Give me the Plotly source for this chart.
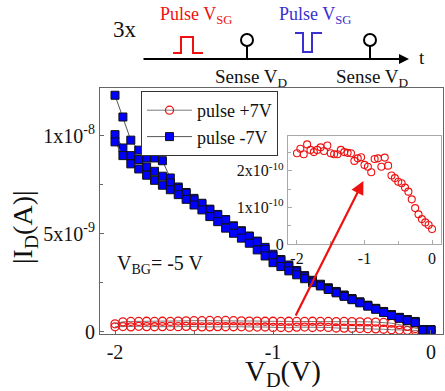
import plotly.graph_objects as go
import numpy as np

# ---------------- data ----------------
vd = [-2.00, -1.95, -1.90, -1.85, -1.80, -1.75, -1.70, -1.65, -1.60, -1.55,
      -1.50, -1.45, -1.40, -1.35, -1.30, -1.25, -1.20, -1.15, -1.10, -1.05,
      -1.00, -0.95, -0.90, -0.85, -0.80, -0.75, -0.70, -0.65, -0.60, -0.55,
      -0.50, -0.45, -0.40, -0.35, -0.30, -0.25, -0.20, -0.15, -0.10, -0.05, 0.00]

# pulse +7V, sweep 1 (units 1e-10 A) -- also shown in the inset
red_sweep1 = [2.48, 2.60, 2.45, 2.72, 2.57, 2.51, 2.57, 2.64, 2.54, 2.69,
              2.48, 2.45, 2.45, 2.57, 2.51, 2.49, 2.48, 2.27, 2.34, 2.37,
              2.16, 2.11, 1.96, 2.32, 2.34, 2.11, 2.36, 2.14, 1.87, 1.80,
              1.70, 1.66, 1.54, 1.43, 1.22, 0.98, 0.81, 0.68, 0.59, 0.52, 0.41]
# pulse +7V, sweep 2 (units 1e-9 A)
red_sweep2 = [0.40, 0.50, 0.52, 0.52, 0.53, 0.52, 0.53, 0.52, 0.54, 0.55,
              0.56, 0.56, 0.57, 0.56, 0.57, 0.56, 0.55, 0.54, 0.54, 0.53,
              0.53, 0.52, 0.53, 0.52, 0.52, 0.53, 0.52, 0.52, 0.51, 0.52,
              0.51, 0.50, 0.50, 0.49, 0.47, 0.43, 0.36, 0.27, 0.16, 0.09, 0.05]

# pulse -7V, three sweeps (units 1e-9 A)
blue_sweep1 = [12.06, 10.95, 9.77, 9.26, 8.86, 8.86, 8.72, 7.84, 7.38, 7.10,
               6.80, 6.50, 6.25, 5.98, 5.72, 5.40, 5.15, 4.88, 4.62, 4.30,
               3.95, 3.68, 3.40, 3.12, 2.86, 2.62, 2.42, 2.24, 2.05, 1.87,
               1.69, 1.52, 1.35, 1.19, 1.03, 0.87, 0.73, 0.62, 0.52, 0.11, 0.10]
blue_sweep2 = [10.05, 9.37, 8.98, 8.78, 8.40, 8.18, 7.93, 7.59, 7.30, 7.06,
               6.72, 6.55, 6.21, 5.95, 5.70, 5.36, 5.10, 4.85, 4.59, 4.20,
               3.86, 3.62, 3.32, 3.05, 2.80, 2.58, 2.38, 2.20, 2.02, 1.84,
               1.66, 1.50, 1.33, 1.17, 1.01, 0.85, 0.71, 0.60, 0.50, 0.10, 0.10]
blue_sweep3 = [9.68, 8.98, 8.56, 8.30, 7.98, 7.72, 7.47, 7.24, 6.99, 6.75,
               6.46, 6.21, 5.87, 5.61, 5.28, 5.02, 4.77, 4.51, 4.17, 3.86,
               3.52, 3.32, 3.10, 2.90, 2.70, 2.50, 2.33, 2.15, 1.98, 1.80,
               1.63, 1.47, 1.30, 1.14, 0.98, 0.82, 0.68, 0.56, 0.46, 0.08, 0.08]

main_xticks = [-2, -1, 0]
main_xticktext = ["-2", "-1", "0"]
main_xminor = [-1.5, -0.5]
main_yticks = [0, 5e-9, 1e-8]
main_yticktext = ["0", "5x10<sup>-9</sup>", "1x10<sup>-8</sup>"]
main_yminor = [2.5e-9, 7.5e-9]
inset_xticks = [-2, -1, 0]
inset_xticktext = ["-2", "-1", "0"]
inset_xminor = [-1.5, -0.5]
inset_yticks = [0, 1e-10, 2e-10]
inset_yticktext = ["0", "1x10<sup>-10</sup>", "2x10<sup>-10</sup>"]
inset_yminor = [0.5e-10, 1.5e-10, 2.5e-10]

# ---------------- figure ----------------
W, H = 445, 391
L, R, T, B = 100, 2, 88, 57
PW, PH = W - L - R, H - T - B

def px(x):
    return (x - L) / PW

def py(y):
    return (H - B - y) / PH

FONT = "Liberation Serif"
RED = "#ee1111"
BLUE = "#0000ff"
PBLUE = "#3a2fd0"
LINE = "#555555"

fig = go.Figure()

red1 = np.array(red_sweep1) * 1e-10
red2 = np.array(red_sweep2) * 1e-9

for i, r in enumerate([red1, red2]):
    fig.add_trace(go.Scatter(
        x=vd, y=r, mode="lines+markers", name="pulse +7V",
        showlegend=(i == 0), line=dict(color=LINE, width=0.8),
        marker=dict(symbol="circle-open", size=8, color=RED,
                    line=dict(width=1.3, color=RED))))

for i, s in enumerate([blue_sweep1, blue_sweep2, blue_sweep3]):
    fig.add_trace(go.Scatter(
        x=vd, y=np.array(s) * 1e-9, mode="lines+markers", name="pulse -7V",
        showlegend=(i == 0), line=dict(color=LINE, width=1),
        marker=dict(symbol="square", size=8, color=BLUE,
                    line=dict(width=1, color="#111111"))))

# inset
fig.add_trace(go.Scatter(
    x=vd, y=red1, mode="markers", showlegend=False, xaxis="x2", yaxis="y2",
    marker=dict(symbol="circle-open", size=7, color=RED, line=dict(width=1.1, color=RED))))

def axis(rng, tv, tt, minor, color, fs, **kw):
    return dict(range=rng, tickvals=tv, ticktext=tt, showgrid=False, zeroline=False,
                showline=True, mirror=True, ticks="inside", ticklen=4,
                tickcolor=color, linecolor=color, linewidth=1.2,
                tickfont=dict(size=fs, family=FONT, color="#111"),
                minor=dict(tickvals=minor, ticks="inside", ticklen=3, tickcolor=color),
                **kw)

fig.update_layout(
    width=W, height=H, margin=dict(l=L, r=R, t=T, b=B),
    paper_bgcolor="white", plot_bgcolor="white",
    font=dict(family=FONT, color="#111", size=18),
    xaxis=axis([-2.095, 0.076], main_xticks, main_xticktext, main_xminor, "#666", 20),
    yaxis=axis([-0.12e-9, 12.43e-9], main_yticks, main_yticktext, main_yminor, "#666", 20),
    xaxis2=axis([-2.133, 0.133], inset_xticks, inset_xticktext, inset_xminor, "#aaa", 16,
                domain=[px(288), px(441)], anchor="y2"),
    yaxis2=axis([0, 2.95e-10], inset_yticks, inset_yticktext, inset_yminor, "#aaa", 16,
                domain=[py(244), py(136)], anchor="x2"),
    legend=dict(x=px(141), y=py(91), xanchor="left", yanchor="top",
                bgcolor="white", bordercolor="#333", borderwidth=1,
                font=dict(size=18, family=FONT), itemwidth=45,
                tracegroupgap=0, traceorder="normal"),
)

# ----- schematic at the top -----
shapes = []
shapes.append(dict(type="path", xref="paper", yref="paper",
                   path=f"M {px(173)},{py(53)} L {px(181)},{py(53)} L {px(181)},{py(37)} "
                        f"L {px(193)},{py(37)} L {px(193)},{py(53)} L {px(203)},{py(53)}",
                   line=dict(color=RED, width=2)))
shapes.append(dict(type="path", xref="paper", yref="paper",
                   path=f"M {px(295)},{py(33)} L {px(303)},{py(33)} L {px(303)},{py(52)} "
                        f"L {px(312)},{py(52)} L {px(312)},{py(33)} L {px(322)},{py(33)}",
                   line=dict(color=PBLUE, width=2)))
for cx in (247, 370):
    shapes.append(dict(type="circle", xref="paper", yref="paper",
                       x0=px(cx - 6), x1=px(cx + 6), y0=py(46), y1=py(34),
                       line=dict(color="black", width=2)))
    shapes.append(dict(type="line", xref="paper", yref="paper",
                       x0=px(cx), x1=px(cx), y0=py(46), y1=py(59),
                       line=dict(color="black", width=2)))
fig.update_layout(shapes=shapes)

def label(x, y, text, size, color="#111", angle=0, yshift=0):
    return dict(x=px(x), y=py(y), xref="paper", yref="paper", text=text,
                showarrow=False, xanchor="center", yanchor="middle", yshift=yshift,
                textangle=angle, font=dict(size=size, color=color, family=FONT))

ann = []
ann.append(dict(x=px(409), y=py(59), xref="paper", yref="paper", ax=-267, ay=0,
                axref="pixel", ayref="pixel", showarrow=True, arrowhead=2,
                arrowsize=1, arrowwidth=2, arrowcolor="black", text="", standoff=0))
ann.append(label(422, 57, "t", 19))
ann.append(label(125, 30, "3x", 23))
ann.append(label(196, 16, "Pulse V<sub>SG</sub>", 18, RED))
ann.append(label(315, 15, "Pulse V<sub>SG</sub>", 18, PBLUE))
ann.append(label(251, 78, "Sense V<sub>D</sub>", 19))
ann.append(label(372, 78, "Sense V<sub>D</sub>", 19))
ann.append(label(24, 209, "|I<sub>D</sub>(A)|", 28, angle=-90, yshift=-18))
ann.append(label(283, 373, "V<sub>D</sub>(V)", 29))
ann.append(label(160, 264, "V<sub>BG</sub>= -5 V", 20))
ann.append(dict(x=-0.428, y=7.69e-9, ax=-0.861, ay=0.75e-9, xref="x", yref="y",
                axref="x", ayref="y", showarrow=True, arrowhead=2, arrowsize=1.2,
                arrowwidth=2.2, arrowcolor=RED, text="", standoff=0))
fig.update_layout(annotations=ann)

fig.write_html("out.html", config={"displayModeBar": False},
               post_script="document.body.style.margin='0';")
